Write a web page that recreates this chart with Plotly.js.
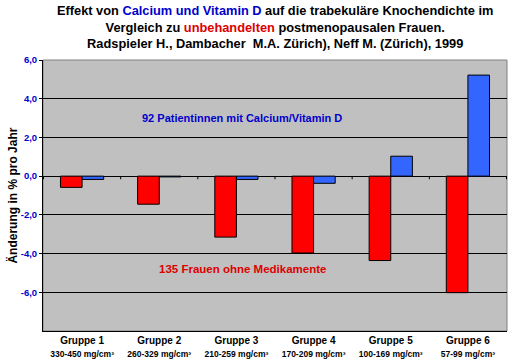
<!DOCTYPE html>
<html>
<head>
<meta charset="utf-8">
<script src="https://cdn.plot.ly/plotly-3.0.1.min.js"></script>
<style>html,body{margin:0;padding:0;background:#fff;}#chart{width:513px;height:360px;}</style>
</head>
<body>
<div id="chart"></div>
<script>
var groups = ["Gruppe 1", "Gruppe 2", "Gruppe 3", "Gruppe 4", "Gruppe 5", "Gruppe 6"];
var ranges = ["330-450 mg/cm³", "260-329 mg/cm³", "210-259 mg/cm³", "170-209 mg/cm³", "100-169 mg/cm³", "57-99 mg/cm³"];
var untreated = [-0.58, -1.45, -3.15, -3.97, -4.36, -6.02];
var calciumVitD = [-0.17, -0.04, -0.17, -0.37, 1.03, 5.22];
var yTickVals = [6, 4, 2, 0, -2, -4, -6];
var yTickText = ["6,0", "4,0", "2,0", "0,0", "-2,0", "-4,0", "-6,0"];

var FONT = "'Liberation Sans', Arial, sans-serif";

var tickText = groups.map(function(g, i){
  return "<b>" + g + "</b><br><span style='font-size:8.5px'><b>" + ranges[i] + "</b></span>";
});

var traces = [
  {type: "bar", x: groups, y: untreated, name: "135 Frauen ohne Medikamente",
   marker: {color: "#ff0000", line: {color: "#000000", width: 1}}, hoverinfo: "skip"},
  {type: "bar", x: groups, y: calciumVitD, name: "92 Patientinnen mit Calcium/Vitamin D",
   marker: {color: "#3366ff", line: {color: "#000000", width: 1}}, hoverinfo: "skip"}
];

var shapes = [];
for (var i = 0; i <= groups.length; i++) {
  shapes.push({type: "line", xref: "x", yref: "y", x0: i - 0.5, x1: i - 0.5, y0: 0, y1: -0.16,
    line: {color: "#000000", width: 1}});
}
shapes.push({type: "rect", xref: "paper", yref: "paper", x0: 0, x1: 1, y0: 0, y1: 1,
  line: {color: "#808080", width: 1}, layer: "below"});

var layout = {
  width: 513, height: 360,
  margin: {l: 43, r: 6, t: 60, b: 29, pad: 0},
  paper_bgcolor: "#ffffff",
  plot_bgcolor: "#c0c0c0",
  showlegend: false,
  barmode: "group",
  bargap: 0.44,
  bargroupgap: 0,
  font: {family: FONT, color: "#000000"},
  xaxis: {
    type: "category",
    tickmode: "array", tickvals: groups, ticktext: tickText,
    tickfont: {family: FONT, size: 10, color: "#000000"},
    ticks: "", showgrid: false, zeroline: false,
    showline: true, linecolor: "#000000", linewidth: 1,
    fixedrange: true
  },
  yaxis: {
    range: [-8, 6],
    tickmode: "array", tickvals: yTickVals, ticktext: yTickText,
    tickfont: {family: FONT, size: 9.5, color: "#0000cc", weight: "bold"},
    ticks: "outside", ticklen: 3, tickcolor: "#000000",
    showgrid: true, gridcolor: "#000000", gridwidth: 1,
    zeroline: true, zerolinecolor: "#000000", zerolinewidth: 1,
    showline: true, linecolor: "#000000", linewidth: 1,
    fixedrange: true
  },
  shapes: shapes,
  annotations: [
    {xref: "paper", yref: "paper", x: 0.5, y: 1.2185, xanchor: "center", yanchor: "top", showarrow: false,
     align: "center",
     text: "<b>Effekt von <span style='color:#0000cc'>Calcium und Vitamin D</span> auf die trabekuläre Knochendichte im<br>Vergleich zu <span style='color:#dd0000'>unbehandelten</span> postmenopausalen Frauen.<br>Radspieler H., Dambacher  M.A. Zürich), Neff M. (Zürich), 1999</b>",
     font: {family: FONT, size: 12.8, color: "#000000"}},
    {xref: "paper", yref: "paper", x: -0.0667, y: 0.5, xanchor: "center", yanchor: "middle", showarrow: false,
     textangle: -90,
     text: "<b>Änderung in % pro Jahr</b>", font: {family: FONT, size: 12, color: "#000000"}},
    {xref: "paper", yref: "y", x: 0.428, y: 3.0, xanchor: "center", yanchor: "middle", showarrow: false,
     text: "<b>92 Patientinnen mit Calcium/Vitamin D</b>", font: {family: FONT, size: 11, color: "#0000cc"}},
    {xref: "paper", yref: "y", x: 0.43, y: -4.82, xanchor: "center", yanchor: "middle", showarrow: false,
     text: "<b>135 Frauen ohne Medikamente</b>", font: {family: FONT, size: 11.5, color: "#dd0000"}}
  ]
};

Plotly.newPlot("chart", traces, layout, {displayModeBar: false, staticPlot: true});
</script>
</body>
</html>
